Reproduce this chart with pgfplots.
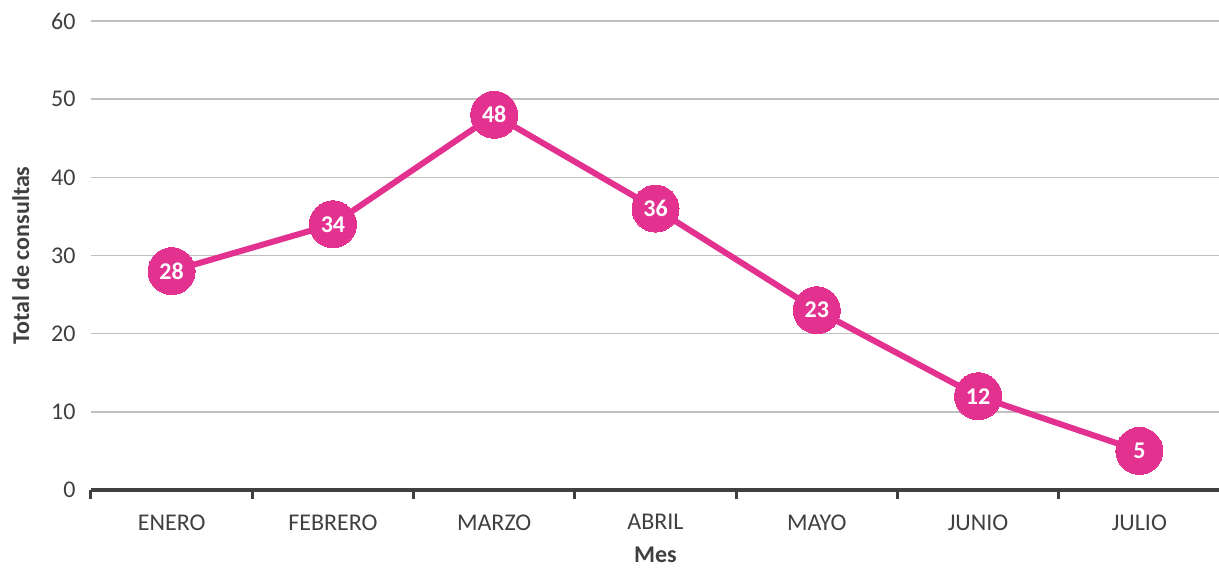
\documentclass[border=0pt]{standalone}
\usepackage{pgfplots}
\pgfplotsset{compat=1.18}
\usepackage{fontspec}
\setmainfont{Carlito}
\definecolor{pinkline}{HTML}{E3318F}
\definecolor{txt}{HTML}{404040}
\definecolor{gridc}{HTML}{C0C0C0}
\begin{document}
\begin{tikzpicture}
\begin{axis}[
  at={(91pt,79pt)}, anchor=south west,
  scale only axis, width=1129pt, height=469pt,
  xmin=-0.5, xmax=6.5, ymin=0, ymax=60,
  axis x line*=bottom, axis y line*=left,
  x axis line style={draw=txt, line width=3.5pt, -},
  y axis line style={draw=none},
  xtick={-0.5,0.5,1.5,2.5,3.5,4.5,5.5,6.5},
  xticklabels={},
  major x tick style={draw=txt, line width=3pt},
  xtick align=outside, major tick length=9pt,
  extra x ticks={0,1,2,3,4,5,6},
  extra x tick labels={ENERO,FEBRERO,MARZO,ABRIL,MAYO,JUNIO,JULIO},
  extra x tick style={major tick length=0pt, major x tick style={draw=none}},
  ytick={0,10,...,60},
  major y tick style={draw=none},
  ymajorgrids, grid style={draw=gridc, line width=1.5pt},
  /pgf/number format/assume math mode=true,
  ticklabel style={font=\fontsize{24}{27}\selectfont, text=txt},
  yticklabel style={xshift=-12pt},
  xticklabel style={yshift=-21pt},
  xlabel={Mes}, ylabel={Total de consultas},
  label style={font=\fontsize{24}{27}\selectfont\bfseries, text=txt},
  xlabel style={inner sep=0pt, yshift=-4pt},
  ylabel style={yshift=15pt},
  clip=false,
]
\addplot[color=pinkline, line width=6pt, mark=*, mark size=23.5pt,
  mark options={fill=pinkline, draw=pinkline, line width=0pt},
  nodes near coords, nodes near coords align=center,
  every node near coord/.style={anchor=center, text=white, font=\fontsize{24}{27}\selectfont\bfseries},
  point meta=explicit]
coordinates {
 (0,28) [28]
 (1,34) [34]
 (2,48) [48]
 (3,36) [36]
 (4,23) [23]
 (5,12) [12]
 (6,5) [5]
};
\end{axis}
\pgfresetboundingbox
\path (0,0) rectangle (1219pt,569pt);
\end{tikzpicture}
\end{document}
